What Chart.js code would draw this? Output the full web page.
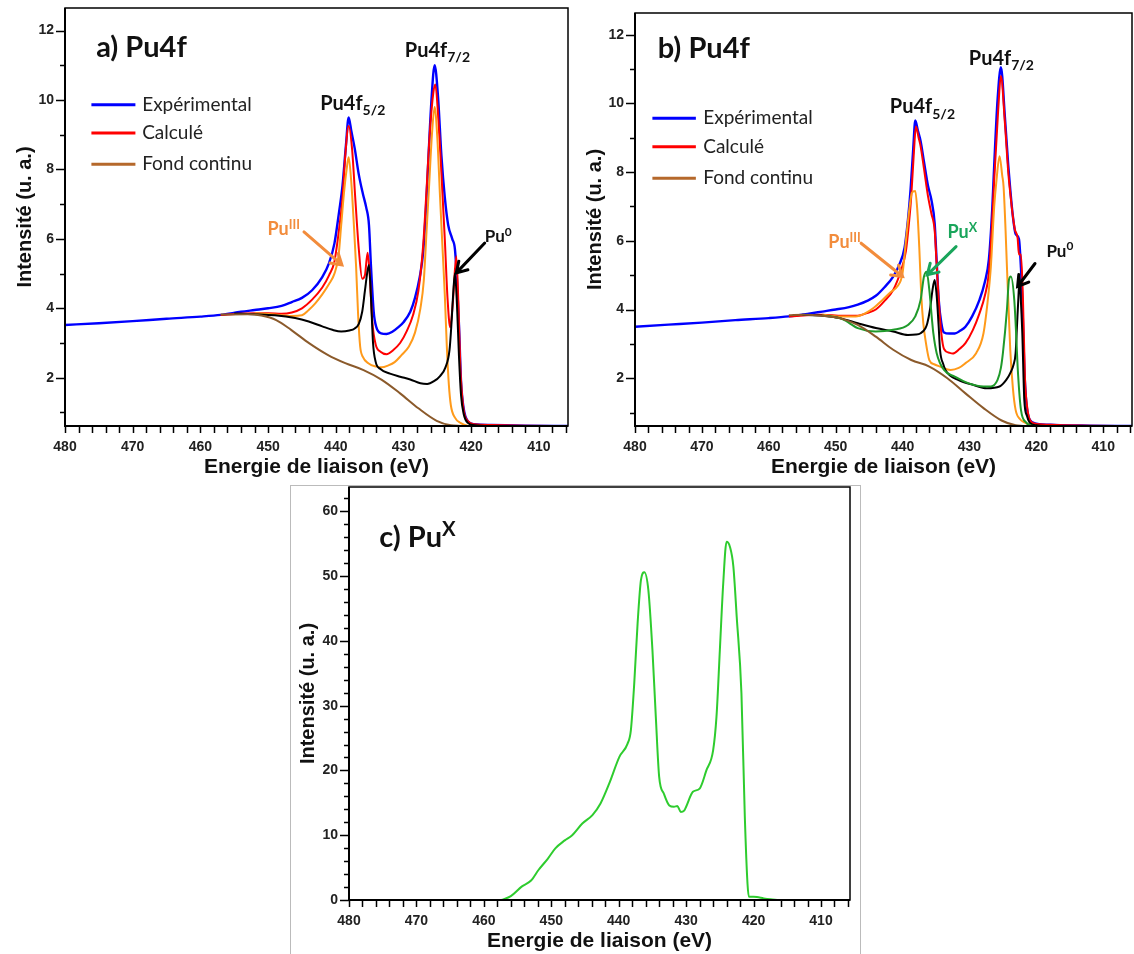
<!DOCTYPE html>
<html>
<head>
<meta charset="utf-8">
<script src="https://cdn.jsdelivr.net/npm/chart.js@4.4.1/dist/chart.umd.min.js"></script>
<style>
  body { margin: 0; background: #fff; }
  #page { position: relative; width: 1134px; height: 954px; }
  canvas { position: absolute; }
  #cadreC { position: absolute; left: 290px; top: 485px; width: 569px; height: 468px; border: 1px solid #bbb; }
</style>
</head>
<body>
<div id="page">
  <div id="cadreC"></div>
  <canvas id="graphA" width="570" height="480" style="left:0;top:0"></canvas>
  <canvas id="graphB" width="564" height="480" style="left:570px;top:0"></canvas>
  <canvas id="graphC" width="570" height="469" style="left:290px;top:485px"></canvas>
</div>
<script>
// graduations
const xTickLabels = [480, 470, 460, 450, 440, 430, 420, 410];
const yTickLabelsAB = [2, 4, 6, 8, 10, 12];
const yTickLabelsC = [0, 10, 20, 30, 40, 50, 60];

// a) Pu4f  -  [energie (eV), intensite]
const experimentalA = [[480,3.52],[475,3.57],[470,3.63],[465,3.7],[460,3.76],[457,3.81],[454,3.9],[452,3.95],[450,4.0],[448,4.07],[446.5,4.18],[445,4.3],[443.5,4.52],[442,4.9],[441,5.3],[440.2,5.87],[439.5,6.8],[439,7.55],[438.5,8.7],[438.1,9.5],[437.7,9.1],[437.2,8.6],[436.6,7.85],[436,7.3],[435.5,6.9],[435.1,6.4],[434.8,5.2],[434.4,3.9],[434,3.45],[433.3,3.28],[432.5,3.26],[431.6,3.33],[430.8,3.45],[430,3.6],[429,3.9],[428.3,4.3],[427.6,4.9],[427.1,5.6],[426.7,6.8],[426.3,8.4],[425.9,9.9],[425.4,11.0],[424.9,10.1],[424.4,8.4],[423.9,7.2],[423.4,6.4],[422.8,6.0],[422.4,5.7],[422.1,4.8],[421.8,3.5],[421.5,1.9],[421.1,1.1],[420.5,0.75],[419.5,0.66],[417,0.64],[412,0.62],[405.7,0.61]];
const calculeA = [[457,3.81],[452,3.86],[450,3.86],[448,3.84],[446.5,3.88],[445,4.0],[443.5,4.25],[442,4.6],[441,4.95],[440.2,5.35],[439.5,6.3],[439,7.2],[438.6,8.4],[438.1,9.25],[437.6,8.6],[437.1,7.1],[436.6,5.7],[436.1,4.85],[435.7,4.95],[435.3,5.6],[435.0,5.0],[434.6,3.6],[434.1,2.95],[433.4,2.75],[432.5,2.68],[431.5,2.8],[430.5,3.0],[429.5,3.35],[428.6,3.8],[427.8,4.5],[427.1,5.8],[426.6,7.4],[426.1,9.1],[425.6,10.2],[425.3,10.45],[424.9,9.6],[424.4,7.9],[423.9,6.0],[423.5,4.3],[423.1,3.45],[422.7,4.2],[422.2,5.5],[421.9,4.2],[421.6,2.3],[421.2,1.2],[420.5,0.75],[419.5,0.66],[417,0.64],[412,0.62],[405.7,0.61]];
const puIIIA = [[452,3.86],[449,3.82],[446.5,3.78],[445,3.8],[444,3.95],[443,4.15],[442,4.4],[441,4.7],[440.2,5.0],[439.6,5.5],[439.2,6.4],[438.8,7.3],[438.4,8.0],[438.1,8.35],[437.7,7.6],[437.3,6.3],[437.0,5.2],[436.7,3.8],[436.4,2.9],[436.0,2.6],[435.2,2.42],[434,2.32],[433.2,2.3],[432.3,2.35],[431.3,2.45],[430.3,2.65],[429.2,2.9],[428.3,3.3],[427.5,4.0],[427.0,4.8],[426.6,6.2],[426.2,7.6],[425.8,9.0],[425.4,9.8],[425.0,8.9],[424.6,7.2],[424.2,5.6],[423.9,4.4],[423.6,2.9],[423.3,1.8],[423.0,1.2],[422.4,0.85],[421.6,0.7],[420.5,0.62],[419,0.61],[405.7,0.61]];
const pu0A = [[455,3.85],[452,3.83],[449,3.8],[446,3.72],[444,3.62],[442,3.48],[440.5,3.38],[439.2,3.33],[438,3.36],[437.2,3.42],[436.6,3.55],[436.1,3.9],[435.7,4.5],[435.3,5.1],[435.1,5.25],[434.8,4.3],[434.5,3.0],[434.1,2.45],[433.4,2.25],[432,2.12],[430.5,2.03],[429,1.95],[427.5,1.84],[426.5,1.82],[425.5,1.9],[424.6,2.05],[423.8,2.3],[423.2,2.8],[422.9,3.6],[422.6,4.6],[422.4,5.0],[422.1,4.1],[421.8,2.6],[421.5,1.5],[421.1,0.95],[420.5,0.7],[419.5,0.63],[418,0.61]];
const fondA = [[457,3.82],[453,3.83],[451,3.79],[448.8,3.66],[446.6,3.38],[443.9,2.99],[441.2,2.66],[438.6,2.42],[435.9,2.22],[433.2,1.94],[430.5,1.55],[427.8,1.12],[425.1,0.76],[423,0.63],[421.5,0.61]];

// b) Pu4f
const experimentalB = [[480,3.5],[475,3.56],[470,3.62],[465,3.69],[460,3.75],[457,3.8],[454,3.88],[452,3.94],[450,4.0],[448,4.07],[446.7,4.14],[445.3,4.25],[444,4.4],[442.7,4.65],[441.4,4.96],[440.5,5.3],[439.7,5.8],[439.2,6.6],[438.8,7.5],[438.4,8.7],[438.1,9.5],[437.7,9.2],[437.3,8.9],[436.8,8.3],[436.2,7.6],[435.7,7.2],[435.2,6.5],[434.9,5.4],[434.6,4.3],[434.2,3.6],[433.8,3.33],[433,3.3],[432.2,3.3],[431.4,3.38],[430.6,3.5],[429.6,3.8],[428.5,4.28],[427.7,4.8],[427.1,5.45],[426.6,6.9],[426.3,8.2],[425.8,10.1],[425.3,11.05],[424.7,9.6],[424.2,8.2],[423.9,7.5],[423.5,6.7],[423.1,6.2],[422.6,6.05],[422.3,5.2],[422.1,4.3],[421.8,2.3],[421.5,1.3],[421.0,0.8],[420,0.68],[417.2,0.64],[412,0.62],[405.7,0.61]];
const calculeB = [[457,3.8],[452,3.85],[449,3.82],[446.7,3.82],[445.3,3.9],[444,4.0],[442.7,4.25],[441.4,4.57],[440.3,5.1],[439.5,5.7],[439,6.6],[438.7,7.3],[438.3,8.6],[438,9.33],[437.6,9.0],[437.3,8.75],[436.8,8.1],[436.2,7.3],[435.7,6.8],[435.2,6.3],[434.9,5.3],[434.6,4.28],[434.2,3.3],[433.8,2.85],[433,2.74],[432.5,2.72],[431.5,2.85],[430.6,3.02],[429.5,3.4],[428.5,3.89],[427.7,4.4],[427.1,5.06],[426.6,6.6],[426.3,7.78],[425.7,9.82],[425.3,10.8],[424.7,9.43],[424.2,8.0],[423.9,7.39],[423.5,6.7],[423.2,6.32],[422.8,6.08],[422.6,5.6],[422.3,5.6],[422.0,4.28],[421.7,2.0],[421.4,1.2],[420.9,0.76],[420,0.67],[417,0.64],[412,0.62],[405.7,0.61]];
const puIIIB = [[452,3.85],[449.4,3.8],[447,3.8],[445.6,3.89],[444.3,4.05],[443,4.28],[441.8,4.5],[440.8,4.67],[440,5.06],[439.5,6.0],[439.0,6.9],[438.6,7.4],[438.1,7.45],[437.8,6.9],[437.5,5.8],[437.2,4.4],[436.9,3.6],[436.5,3.02],[436,2.53],[435.2,2.4],[434.4,2.34],[432.8,2.24],[431.6,2.3],[430.6,2.44],[429,2.73],[427.9,3.31],[427.3,4.2],[426.8,5.25],[426.3,7.0],[426,7.68],[425.5,8.46],[425.1,7.9],[424.9,7.58],[424.6,6.3],[424.4,5.25],[424.1,3.8],[423.9,2.83],[423.5,1.7],[423.1,1.08],[422.4,0.8],[421.7,0.71],[420.4,0.61],[405.7,0.61]];
const puXB = [[452,3.83],[449,3.72],[446.7,3.46],[444,3.36],[441.4,3.41],[439.2,3.55],[438.1,3.8],[437.3,4.28],[436.8,4.96],[436.4,5.1],[436.0,4.57],[435.6,3.7],[435.4,3.31],[434.9,2.73],[433.8,2.24],[432.2,2.05],[430.1,1.85],[427.9,1.76],[426.8,1.76],[425.8,1.95],[425.3,2.3],[425.0,2.73],[424.4,3.99],[424.1,4.86],[423.8,4.96],[423.3,4.28],[423.0,3.2],[422.8,2.34],[422.3,1.08],[421.5,0.71],[420.4,0.61],[405.7,0.61]];
const pu0B = [[455,3.85],[452,3.82],[449.4,3.75],[446.7,3.6],[444,3.46],[441.4,3.36],[439.2,3.26],[438,3.27],[437.3,3.31],[436.6,3.45],[436.3,3.6],[435.9,4.0],[435.5,4.6],[435.2,4.86],[434.9,4.4],[434.6,3.5],[434.4,2.83],[433.9,2.4],[433.6,2.24],[431.7,1.95],[429.5,1.81],[427.4,1.71],[425.5,1.76],[424.5,1.95],[423.9,2.15],[423.4,2.4],[423.1,2.73],[422.9,3.5],[422.7,4.28],[422.5,4.96],[422.3,4.2],[422.1,3.31],[421.8,1.37],[421.4,0.9],[421.0,0.71],[420,0.63],[418,0.61]];
const fondB = [[457,3.83],[454.8,3.85],[452,3.82],[449.4,3.75],[446.7,3.55],[444,3.21],[441.4,2.83],[438.7,2.53],[436,2.34],[433.3,2.0],[430.6,1.56],[427.9,1.13],[425.2,0.77],[423.1,0.63],[422,0.61]];

// c) PuX
const puXC = [[457.4,0],[456,0.6],[454.4,2.06],[453,3.0],[451.9,4.63],[450.5,6.4],[449.4,7.97],[448,9.2],[446.9,10.0],[445.4,11.8],[443.9,13.1],[442.7,14.9],[441.4,18.0],[439.9,22.1],[438.7,24.1],[438.2,26.2],[437.7,33.4],[437.2,42.7],[436.7,49.4],[436.2,50.6],[435.6,47.8],[435.0,38.6],[434.5,28.3],[434.0,19.0],[433.3,16.4],[432.5,14.6],[431.8,14.4],[431.3,14.5],[430.8,13.6],[430.3,13.8],[430.0,14.4],[429.0,16.7],[428.0,17.2],[427.0,20.0],[426.0,23.1],[425.5,28.3],[425.0,38.6],[424.5,48.9],[424.0,55.3],[423.5,54.5],[423.0,51.5],[422.5,43.7],[421.8,31.9],[421.3,12.9],[420.9,2.5],[420.7,0.5],[420,0.5],[419.5,0.45],[418.5,0.25],[417.5,0.1],[416.5,0]];

Chart.defaults.font.family = 'Liberation Sans';
const ANNOT = 'Lato';
const ORANGE_TXT = '#f28c3c';

function texteRiche(ctx, x, y, morceaux, taille, couleur, poids) {
    let cx = x;
    morceaux.forEach(([t, mode]) => {
        const s = mode ? taille * 0.7 : taille;
        const dy = mode === 'sub' ? taille * 0.28 : (mode === 'sup' ? -taille * 0.36 : 0);
        ctx.font = (poids || 'bold') + ' ' + s + 'px ' + ANNOT;
        ctx.fillStyle = couleur;
        ctx.textBaseline = 'alphabetic';
        ctx.fillText(t, cx, y + dy);
        cx += ctx.measureText(t).width;
    });
}

function fleche(ctx, x1, y1, x2, y2, couleur) {
    const a = Math.atan2(y2 - y1, x2 - x1);
    ctx.strokeStyle = couleur;
    ctx.lineWidth = 3;
    ctx.lineCap = 'round';
    ctx.beginPath();
    ctx.moveTo(x1, y1);
    ctx.lineTo(x2, y2);
    ctx.moveTo(x2 - 12 * Math.cos(a - 0.55), y2 - 12 * Math.sin(a - 0.55));
    ctx.lineTo(x2, y2);
    ctx.lineTo(x2 - 12 * Math.cos(a + 0.55), y2 - 12 * Math.sin(a + 0.55));
    ctx.stroke();
}

function habillage(cfg) {
    return {
        id: 'habillage',
        afterDatasetsDraw(chart) {
            const {ctx, scales: {x, y}} = chart;
            ctx.save();
            (cfg.legende || []).forEach((it, i) => {
                const py = y.getPixelForValue(cfg.legendeY[i]);
                ctx.strokeStyle = it.couleur;
                ctx.lineWidth = 3;
                ctx.beginPath();
                ctx.moveTo(x.getPixelForValue(cfg.legendeE[0]), py);
                ctx.lineTo(x.getPixelForValue(cfg.legendeE[1]), py);
                ctx.stroke();
                ctx.font = '19px ' + ANNOT;
                ctx.fillStyle = '#222';
                ctx.textBaseline = 'middle';
                ctx.fillText(it.label, x.getPixelForValue(cfg.legendeE[2]), py);
            });
            (cfg.notes || []).forEach(n => {
                texteRiche(ctx, x.getPixelForValue(n.e), y.getPixelForValue(n.v), n.parts, n.size, n.color || '#111');
            });
            (cfg.fleches || []).forEach(f => {
                fleche(ctx, x.getPixelForValue(f.de[0]), y.getPixelForValue(f.de[1]),
                    x.getPixelForValue(f.a[0]), y.getPixelForValue(f.a[1]), f.couleur);
            });
            ctx.restore();
        },
        afterDraw(chart) {
            const {ctx, chartArea: ca, scales: {x, y}} = chart;
            ctx.save();
            ctx.strokeStyle = '#000';
            ctx.lineWidth = 1.5;
            ctx.strokeRect(ca.left, ca.top, ca.right - ca.left, ca.bottom - ca.top);
            ctx.lineWidth = 2;
            ctx.beginPath();
            ctx.moveTo(ca.left, ca.top);
            ctx.lineTo(ca.left, ca.bottom);
            ctx.lineTo(ca.right, ca.bottom);
            ctx.stroke();
            ctx.lineWidth = 1.5;
            ctx.beginPath();
            x.ticks.forEach(t => {
                const px = Math.round(x.getPixelForValue(t.value)) + 0.5;
                ctx.moveTo(px, ca.bottom);
                ctx.lineTo(px, ca.bottom + 7);
            });
            y.ticks.forEach(t => {
                const py = Math.round(y.getPixelForValue(t.value)) + 0.5;
                ctx.moveTo(ca.left, py);
                ctx.lineTo(ca.left - (t.label !== '' ? 9 : 5), py);
            });
            ctx.stroke();
            ctx.restore();
        }
    };
}

function serie(label, data, couleur, largeur) {
    return {
        label: label,
        data: data,
        borderColor: couleur,
        borderWidth: largeur || 2,
        pointRadius: 0,
        fill: false,
        cubicInterpolationMode: 'monotone'
    };
}

function sansMarges(s) {
    s.paddingTop = 0;
    s.paddingBottom = 0;
    s.paddingLeft = 0;
    s.paddingRight = 0;
}

function echelles(yMin, yMax, yPas, yLabels, yLargeur, titreDecalage) {
    return {
        x: {
            type: 'linear',
            reverse: true,
            min: 405.7,
            max: 480,
            afterBuildTicks: s => {
                const t = [];
                for (let v = 406; v <= 480; v += 2) t.push({value: v});
                s.ticks = t;
            },
            afterFit: s => { s.height = 54; sansMarges(s); },
            ticks: {
                autoSkip: false,
                maxRotation: 0,
                padding: 13,
                color: '#222',
                font: {size: 14, weight: 'bold'},
                callback: v => xTickLabels.includes(v) ? String(v) : ''
            },
            grid: {display: false, drawTicks: false},
            border: {display: false},
            title: {
                display: true,
                text: 'Energie de liaison (eV)',
                color: '#111',
                font: {size: 21, weight: 'bold'},
                padding: {top: 0, bottom: 0}
            }
        },
        y: {
            type: 'linear',
            min: yMin,
            max: yMax,
            afterBuildTicks: s => {
                const t = [];
                for (let v = Math.ceil(yMin / yPas) * yPas; v <= yMax; v += yPas) t.push({value: v});
                s.ticks = t;
            },
            afterFit: s => { s.width = yLargeur; sansMarges(s); },
            ticks: {
                autoSkip: false,
                padding: 11,
                color: '#222',
                font: {size: 14, weight: 'bold'},
                callback: v => yLabels.includes(v) ? String(v) : ''
            },
            grid: {display: false, drawTicks: false},
            border: {display: false},
            title: {
                display: true,
                text: 'Intensité (u. a.)',
                color: '#111',
                font: {size: 20, weight: 'bold'},
                padding: {top: titreDecalage, bottom: 0}
            }
        }
    };
}

const optionsCommunes = {
    responsive: false,
    animation: false,
    devicePixelRatio: 1,
    plugins: {legend: {display: false}, tooltip: {enabled: false}}
};

const legendeAB = [
    {label: 'Expérimental', couleur: '#0000ff'},
    {label: 'Calculé', couleur: '#ff0000'},
    {label: 'Fond continu', couleur: '#b5682b'}
];

new Chart(document.getElementById('graphA'), {
    type: 'line',
    data: {
        datasets: [
            serie('Fond continu', fondA, '#8b5a2b'),
            serie('Pu0', pu0A, '#000000'),
            serie('PuIII', puIIIA, '#ff9a1a'),
            serie('Calculé', calculeA, '#ff0000'),
            serie('Expérimental', experimentalA, '#0000ff', 2.4)
        ]
    },
    options: Object.assign({}, optionsCommunes, {
        layout: {padding: {left: 0, right: 2, top: 8, bottom: 0}},
        scales: echelles(0.61, 12.65, 1, yTickLabelsAB, 65, 13)
    }),
    plugins: [habillage({
        legende: legendeAB,
        legendeE: [476.1, 469.6, 468.6],
        legendeY: [9.86, 9.05, 8.15],
        notes: [
            {e: 475.4, v: 11.25, parts: [['a) Pu4f']], size: 29},
            {e: 442.3, v: 9.72, parts: [['Pu4f'], ['5/2', 'sub']], size: 20},
            {e: 429.8, v: 11.25, parts: [['Pu4f'], ['7/2', 'sub']], size: 20},
            {e: 450.1, v: 6.11, parts: [['Pu'], ['III', 'sup']], size: 18, color: ORANGE_TXT},
            {e: 418.0, v: 5.91, parts: [['Pu'], ['0', 'sup']], size: 17}
        ],
        fleches: [
            {de: [444.7, 6.2], a: [439.1, 5.25], couleur: ORANGE_TXT},
            {de: [418.0, 5.88], a: [422.2, 5.02], couleur: '#000'}
        ]
    })]
});

new Chart(document.getElementById('graphB'), {
    type: 'line',
    data: {
        datasets: [
            serie('Fond continu', fondB, '#8b5a2b'),
            serie('PuX', puXB, '#1f9a2a'),
            serie('Pu0', pu0B, '#000000'),
            serie('PuIII', puIIIB, '#ff9a1a'),
            serie('Calculé', calculeB, '#ff0000'),
            serie('Expérimental', experimentalB, '#0000ff', 2.4)
        ]
    },
    options: Object.assign({}, optionsCommunes, {
        layout: {padding: {left: 0, right: 2, top: 13, bottom: 0}},
        scales: echelles(0.61, 12.63, 1, yTickLabelsAB, 65, 13)
    }),
    plugins: [habillage({
        legende: legendeAB,
        legendeE: [477.4, 470.9, 469.8],
        legendeY: [9.57, 8.74, 7.82],
        notes: [
            {e: 476.6, v: 11.32, parts: [['b) Pu4f']], size: 29},
            {e: 441.9, v: 9.72, parts: [['Pu4f'], ['5/2', 'sub']], size: 20},
            {e: 430.1, v: 11.13, parts: [['Pu4f'], ['7/2', 'sub']], size: 20},
            {e: 451.1, v: 5.79, parts: [['Pu'], ['III', 'sup']], size: 18, color: ORANGE_TXT},
            {e: 433.3, v: 6.08, parts: [['Pu'], ['X', 'sup']], size: 18, color: '#19a55b'},
            {e: 418.5, v: 5.54, parts: [['Pu'], ['0', 'sup']], size: 17}
        ],
        fleches: [
            {de: [446.2, 5.93], a: [440.0, 4.96], couleur: ORANGE_TXT},
            {de: [432.0, 5.83], a: [436.3, 5.01], couleur: '#19a55b'},
            {de: [420.2, 5.34], a: [422.8, 4.67], couleur: '#000'}
        ]
    })]
});

new Chart(document.getElementById('graphC'), {
    type: 'line',
    data: {
        datasets: [serie('PuX', puXC, '#2ecc2e')]
    },
    options: Object.assign({}, optionsCommunes, {
        layout: {padding: {left: 0, right: 10, top: 2, bottom: 0}},
        scales: echelles(0, 63.75, 2, yTickLabelsC, 59, 6)
    }),
    plugins: [habillage({
        notes: [
            {e: 475.5, v: 54.5, parts: [['c) Pu'], ['X', 'sup']], size: 29}
        ]
    })]
});
</script>
</body>
</html>
